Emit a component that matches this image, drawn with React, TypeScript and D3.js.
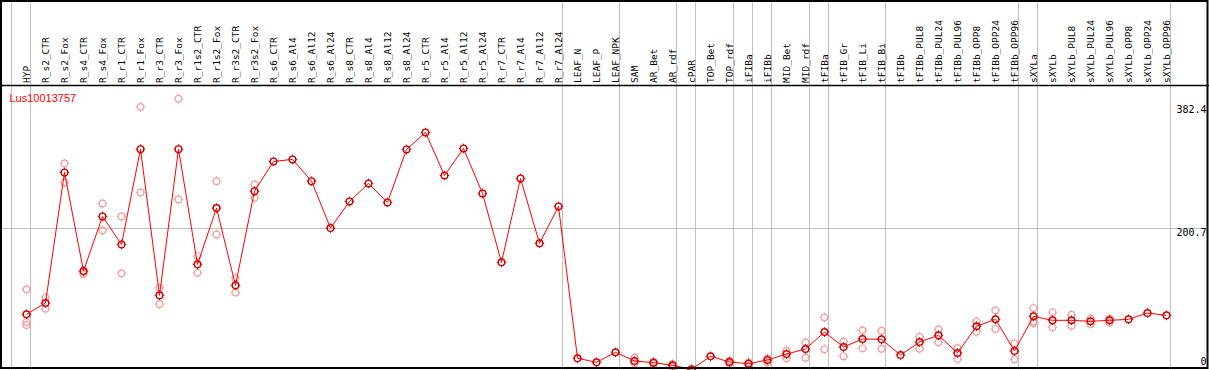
import React from "react";
import * as d3 from "d3";

const title = "Lus10013757";

const categories = [
  "HYP", "R_s2_CTR", "R_s2_Fox", "R_s4_CTR", "R_s4_Fox", "R_r1_CTR", "R_r1_Fox", "R_r3_CTR", "R_r3_Fox",
  "R_r1s2_CTR", "R_r1s2_Fox", "R_r3s2_CTR", "R_r3s2_Fox", "R_s6_CTR", "R_s6_Al4", "R_s6_Al12", "R_s6_Al24",
  "R_s8_CTR", "R_s8_Al4", "R_s8_Al12", "R_s8_Al24", "R_r5_CTR", "R_r5_Al4", "R_r5_Al12", "R_r5_Al24",
  "R_r7_CTR", "R_r7_Al4", "R_r7_Al12", "R_r7_Al24", "LEAF_N", "LEAF_P", "LEAF_NPK", "SAM", "AR_Bet", "AR_rdf",
  "cPAR", "TOP_Bet", "TOP_rdf", "iFIBa", "iFIBb", "MID_Bet", "MID_rdf", "tFIBa", "tFIB_Gr", "tFIB_Li", "tFIB_Bi",
  "tFIBb", "tFIBb_PUL8", "tFIBb_PUL24", "tFIBb_PUL96", "tFIBb_OPP8", "tFIBb_OPP24", "tFIBb_OPP96",
  "sXYLa", "sXYLb", "sXYLb_PUL8", "sXYLb_PUL24", "sXYLb_PUL96", "sXYLb_OPP8", "sXYLb_OPP24", "sXYLb_OPP96",
];

const meanValues = [
  78.5, 94.4, 278.5, 139.4, 216.5, 177.0, 311.3, 105.2, 311.3,
  148.9, 228.2, 119.3, 252.1, 294.0, 296.8, 266.2, 200.0,
  237.6, 263.0, 236.2, 310.9, 334.8, 274.2, 312.3, 248.9,
  151.7, 270.0, 178.5, 230.6, 16.5, 10.8, 24.9, 12.7, 10.3, 6.6,
  1.0, 19.3, 11.3, 8.9, 14.1, 22.5, 29.6, 53.5, 32.4, 43.7, 43.2,
  21.1, 39.4, 48.9, 23.9, 61.6, 71.4, 26.8,
  75.6, 70.0, 70.0, 68.6, 70.0, 71.4, 80.3, 77.0,
];

const replicateValues: number[][] = [
  [113.7, 67.6, 63.4], [101.8, 86.3], [291.1, 264.4], [138.0, 135.2], [234.8, 196.8], [216.5, 136.2],
  [370.9, 250.3], [115.9, 93.0], [382.4, 240.4],
  [160.6, 137.0], [266.2, 191.1], [129.6, 109.4], [261.6, 242.7], [], [], [], [],
  [], [], [], [], [], [], [], [],
  [], [], [], [], [], [], [], [17.3, 9.4], [11.7, 8.5], [8.5, 4.6],
  [], [], [13.1, 8.9], [10.8, 6.6], [16.5, 10.3], [26.8, 16.5], [39.0, 17.3], [74.2, 29.2], [39.9, 19.3],
  [55.9, 30.6], [55.4, 30.0],
  [], [46.9, 30.0], [57.3, 39.0], [31.0, 15.5], [68.6, 53.9], [84.1, 57.7], [37.6, 15.1],
  [87.3, 68.6, 65.8], [81.3, 60.1], [77.9, 62.4], [72.3, 64.8], [72.3, 66.6], [], [], [],
];

// index of the last column of each group (separator drawn right of it)
const groupEnds = [-1, 0, 28, 31, 34, 35, 37, 38, 39, 41, 42, 45, 52, 53, 60];

const axisTicks = [0, 200.7, 382.4];
const gridTicks = [200.7];

const W = 1209;
const H = 370;
const HEADER_Y = 85.5;
const PLOT_BOTTOM = 368;

export default function App() {
  const x = d3.scaleLinear().domain([0, categories.length - 1]).range([26.5, 1166.5]);
  const y = d3.scaleLinear().domain([0, 382.4]).range([370, 98.7]);

  const line = d3
    .line<number>()
    .x((_, i) => x(i))
    .y((d) => y(d));

  const pts = meanValues.map((v, i) => ({ cx: x(i), cy: y(v) }));

  const tickMarks = (cx: number, cy: number, r: number, color: string, key: string) => (
    <g key={key} stroke={color} strokeWidth={1}>
      <line x1={cx} y1={cy - r} x2={cx} y2={cy - r - 1.5} />
      <line x1={cx} y1={cy + r} x2={cx} y2={cy + r + 1.5} />
      <line x1={cx - r} y1={cy} x2={cx - r - 1.5} y2={cy} />
      <line x1={cx + r} y1={cy} x2={cx + r + 1.5} y2={cy} />
    </g>
  );

  return (
    <svg
      width={W}
      height={H}
      style={{ position: "absolute", left: 0, top: 0, display: "block", background: "#fff" }}
    >
      <rect x={0} y={0} width={W} height={H} fill="#fff" />
      {/* group separators */}
      {groupEnds.map((g) => (
        <line
          key={"sep" + g}
          x1={Math.floor(x(g) + 4) + 0.5}
          x2={Math.floor(x(g) + 4) + 0.5}
          y1={0}
          y2={H}
          stroke="#c0c0c0"
          strokeWidth={1}
        />
      ))}
      {/* horizontal grid */}
      {gridTicks.map((t) => (
        <line
          key={"grid" + t}
          x1={2}
          x2={1207}
          y1={Math.round(y(t)) + 0.5}
          y2={Math.round(y(t)) + 0.5}
          stroke="#c0c0c0"
          strokeWidth={1}
        />
      ))}
      {/* header labels */}
      {categories.map((c, i) => (
        <text
          key={"lab" + c}
          transform={`translate(${x(i)},83) rotate(-90)`}
          dy="0.36em"
          fontFamily="DejaVu Sans Mono, monospace"
          fontSize={9.5}
          fill="#000"
        >
          {c}
        </text>
      ))}
      {/* axis labels */}
      {axisTicks.map((t) => (
        <text
          key={"ax" + t}
          x={1206.5}
          y={Math.max(113, Math.min(365, y(t) + 8))}
          textAnchor="end"
          fontFamily="DejaVu Sans Mono, monospace"
          fontSize={10}
          fill="#000"
        >
          {t === 0 ? "0" : t.toFixed(1)}
        </text>
      ))}
      {/* title */}
      <text x={9.5} y={101.5} fontFamily="Liberation Sans, Arial, sans-serif" fontSize={11} fill="#ff0000">
        {title}
      </text>
      {/* replicates */}
      {replicateValues.map((reps, i) =>
        reps.map((v, j) => (
          <g key={`rep${i}-${j}`}>
            <circle cx={x(i)} cy={y(v)} r={3.3} fill="none" stroke="#f0a0a0" strokeWidth={1.2} />
            {tickMarks(x(i), y(v), 3.3, "#f0a0a0", `rt${i}-${j}`)}
          </g>
        ))
      )}
      {/* means */}
      {pts.map((p, i) => (
        <g key={"m" + i}>
          <circle cx={p.cx} cy={p.cy} r={3.3} fill="none" stroke="#d00000" strokeWidth={1.4} />
          {tickMarks(p.cx, p.cy, 3.3, "#d00000", "mt" + i)}
        </g>
      ))}
      <path d={line(meanValues) || ""} fill="none" stroke="#ff0000" strokeWidth={1} />
      {/* frame */}
      <line x1={0} x2={W} y1={HEADER_Y} y2={HEADER_Y} stroke="#000" strokeWidth={1.5} />
      <rect x={1} y={1} width={1206.5} height={PLOT_BOTTOM - 1} fill="none" stroke="#000" strokeWidth={2} />
    </svg>
  );
}
